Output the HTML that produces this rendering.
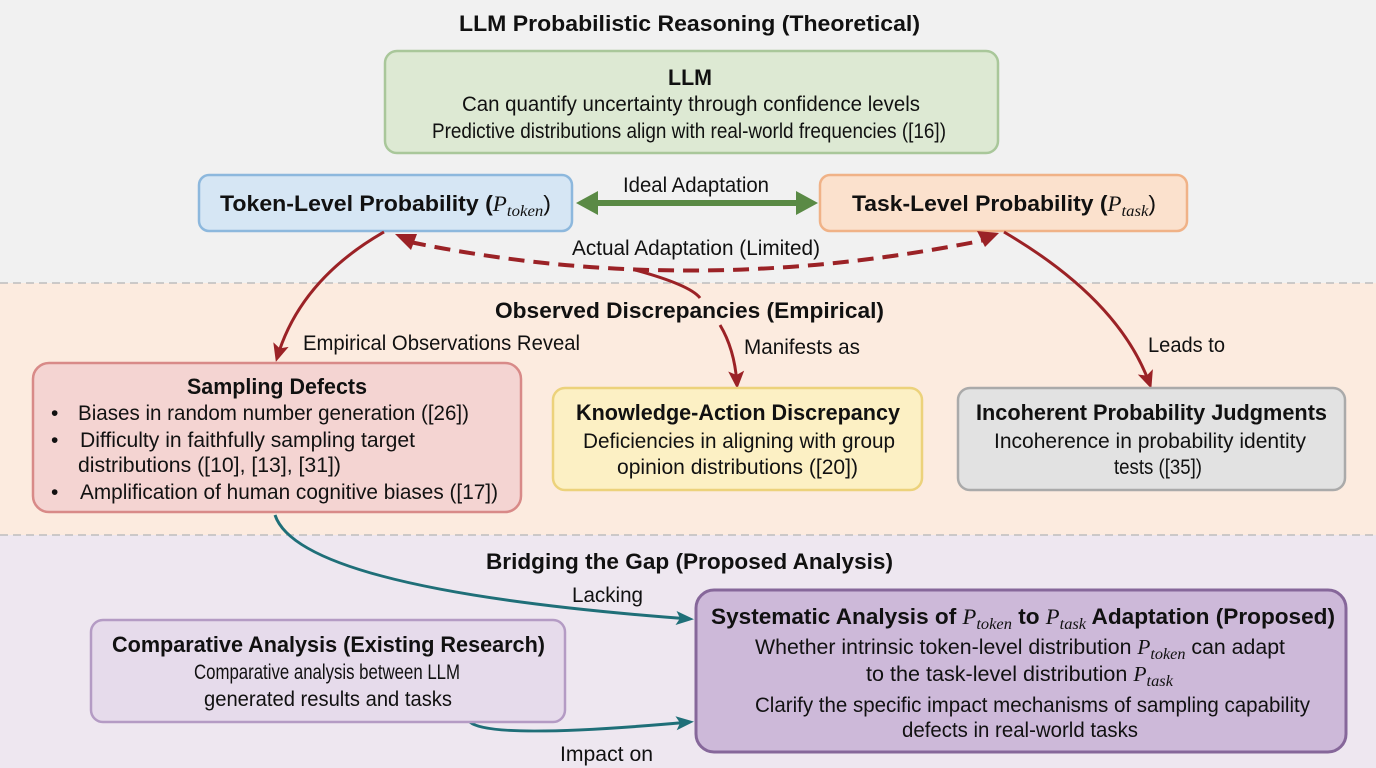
<!DOCTYPE html>
<html><head><meta charset="utf-8"><style>
html,body{margin:0;padding:0;background:#f1f1f1;}
svg{display:block;font-family:"Liberation Sans",sans-serif;}
.t{font-size:22px;font-weight:bold;fill:#111;}
.r{font-size:21px;fill:#111;}
.m{font-family:"Liberation Serif",serif;font-style:italic;font-weight:normal;}
</style></head><body>
<svg width="1376" height="768" viewBox="0 0 1376 768" xmlns="http://www.w3.org/2000/svg">
<defs>
<marker id="ar2" markerWidth="20" markerHeight="20" refX="14" refY="10" orient="auto" markerUnits="userSpaceOnUse" viewBox="0 0 20 20"><path d="M0,2 L18,10 L0,18 L4,10z" fill="#9b2226"/></marker>
<marker id="at" markerWidth="20" markerHeight="20" refX="14" refY="10" orient="auto" markerUnits="userSpaceOnUse" viewBox="0 0 20 20"><path d="M0,3 L18,10 L0,17 L4,10z" fill="#1f6f78"/></marker>
</defs>
<rect x="0" y="0" width="1376" height="283" fill="#f1f1f1"/>
<rect x="0" y="283" width="1376" height="252" fill="#fcebdf"/>
<rect x="0" y="535" width="1376" height="233" fill="#eee7f0"/>
<line x1="0" y1="283" x2="1376" y2="283" stroke="#bdbdbd" stroke-width="1.5" stroke-dasharray="8,5"/>
<line x1="0" y1="535" x2="1376" y2="535" stroke="#bdbdbd" stroke-width="1.5" stroke-dasharray="8,5"/>

<text class="t" x="459" y="31" textLength="461" lengthAdjust="spacingAndGlyphs">LLM Probabilistic Reasoning (Theoretical)</text>

<rect x="385" y="51" width="613" height="102" rx="12" fill="#dde9d3" stroke="#a9c79a" stroke-width="2.5"/>
<text class="t" x="668" y="85" textLength="44" lengthAdjust="spacingAndGlyphs">LLM</text>
<text class="r" x="462" y="111" textLength="458" lengthAdjust="spacingAndGlyphs">Can quantify uncertainty through confidence levels</text>
<text class="r" x="432" y="138" textLength="514" lengthAdjust="spacingAndGlyphs">Predictive distributions align with real-world frequencies ([16])</text>

<rect x="199" y="175" width="373" height="56" rx="10" fill="#d6e6f4" stroke="#8db8dd" stroke-width="2.5"/>
<text class="t" x="220" y="211" textLength="331" lengthAdjust="spacingAndGlyphs">Token-Level Probability (<tspan class="m">P</tspan><tspan class="m" font-size="16" dy="5">token</tspan><tspan dy="-5" font-weight="normal">)</tspan></text>
<rect x="820" y="175" width="367" height="56" rx="10" fill="#fbe1cd" stroke="#f0b287" stroke-width="2.5"/>
<text class="t" x="852" y="211" textLength="304" lengthAdjust="spacingAndGlyphs">Task-Level Probability (<tspan class="m">P</tspan><tspan class="m" font-size="16" dy="5">task</tspan><tspan dy="-5" font-weight="normal">)</tspan></text>

<line x1="596" y1="203" x2="798" y2="203" stroke="#5a8a45" stroke-width="6"/>
<path d="M576,203 l22,-12 v24z M818,203 l-22,-12 v24z" fill="#5a8a45"/>
<text class="r" x="623" y="192" textLength="146" lengthAdjust="spacingAndGlyphs">Ideal Adaptation</text>

<path d="M410,242 Q690,300 985,240" fill="none" stroke="#9b2226" stroke-width="4" stroke-dasharray="16,9"/>
<path d="M395,234 l22,0 l-6,16z M999,233 l-22,-2 l8,16z" fill="#9b2226"/>
<text class="r" x="572" y="255" textLength="248" lengthAdjust="spacingAndGlyphs">Actual Adaptation (Limited)</text>

<path d="M384,232 Q300,280 277,358" fill="none" stroke="#9b2226" stroke-width="3" marker-end="url(#ar2)"/>
<path d="M635,270 Q690,285 700,298" fill="none" stroke="#9b2226" stroke-width="3"/>
<path d="M720,325 Q735,350 737,385" fill="none" stroke="#9b2226" stroke-width="3" marker-end="url(#ar2)"/>
<path d="M1004,232 Q1120,300 1150,385" fill="none" stroke="#9b2226" stroke-width="3" marker-end="url(#ar2)"/>

<text class="t" x="495" y="318" textLength="389" lengthAdjust="spacingAndGlyphs">Observed Discrepancies (Empirical)</text>
<text class="r" x="303" y="350" textLength="277" lengthAdjust="spacingAndGlyphs">Empirical Observations Reveal</text>
<text class="r" x="744" y="354" textLength="116" lengthAdjust="spacingAndGlyphs">Manifests as</text>
<text class="r" x="1148" y="352" textLength="77" lengthAdjust="spacingAndGlyphs">Leads to</text>

<rect x="33" y="363" width="488" height="149" rx="16" fill="#f4d4d2" stroke="#d88a88" stroke-width="2.5"/>
<text class="t" x="187" y="394" textLength="180" lengthAdjust="spacingAndGlyphs">Sampling Defects</text>
<g class="r">
<text x="51" y="420">•</text><text x="78" y="420" textLength="391" lengthAdjust="spacingAndGlyphs">Biases in random number generation ([26])</text>
<text x="51" y="447">•</text><text x="80" y="447" textLength="335" lengthAdjust="spacingAndGlyphs">Difficulty in faithfully sampling target</text>
<text x="78" y="472" textLength="263" lengthAdjust="spacingAndGlyphs">distributions ([10], [13], [31])</text>
<text x="51" y="499">•</text><text x="80" y="499" textLength="418" lengthAdjust="spacingAndGlyphs">Amplification of human cognitive biases ([17])</text>
</g>

<rect x="553" y="388" width="369" height="102" rx="12" fill="#fcf0c4" stroke="#ecd27b" stroke-width="2.5"/>
<text class="t" x="576" y="420" textLength="324" lengthAdjust="spacingAndGlyphs">Knowledge-Action Discrepancy</text>
<text class="r" x="583" y="448" textLength="312" lengthAdjust="spacingAndGlyphs">Deficiencies in aligning with group</text>
<text class="r" x="617" y="474" textLength="241" lengthAdjust="spacingAndGlyphs">opinion distributions ([20])</text>

<rect x="958" y="388" width="387" height="102" rx="12" fill="#e2e2e2" stroke="#aaaaaa" stroke-width="2.5"/>
<text class="t" x="976" y="420" textLength="351" lengthAdjust="spacingAndGlyphs">Incoherent Probability Judgments</text>
<text class="r" x="994" y="448" textLength="312" lengthAdjust="spacingAndGlyphs">Incoherence in probability identity</text>
<text class="r" x="1114" y="474" textLength="88" lengthAdjust="spacingAndGlyphs">tests ([35])</text>

<text class="t" x="486" y="569" textLength="407" lengthAdjust="spacingAndGlyphs">Bridging the Gap (Proposed Analysis)</text>
<path d="M275,515 Q300,590 690,619" fill="none" stroke="#1f6f78" stroke-width="3" marker-end="url(#at)"/>
<text class="r" x="572" y="602" textLength="71" lengthAdjust="spacingAndGlyphs">Lacking</text>
<path d="M470,722 Q490,740 690,722" fill="none" stroke="#1f6f78" stroke-width="3" marker-end="url(#at)"/>
<text class="r" x="560" y="761" textLength="93" lengthAdjust="spacingAndGlyphs">Impact on</text>

<rect x="91" y="620" width="474" height="102" rx="12" fill="#e6dbeb" stroke="#b49bc4" stroke-width="2.5"/>
<text class="t" x="112" y="652" textLength="433" lengthAdjust="spacingAndGlyphs">Comparative Analysis (Existing Research)</text>
<text class="r" x="194" y="679" textLength="266" lengthAdjust="spacingAndGlyphs">Comparative analysis between LLM</text>
<text class="r" x="204" y="706" textLength="248" lengthAdjust="spacingAndGlyphs">generated results and tasks</text>

<rect x="696" y="590" width="650" height="162" rx="18" fill="#cdb9d9" stroke="#86679a" stroke-width="3"/>
<text class="t" x="711" y="624" textLength="624" lengthAdjust="spacingAndGlyphs">Systematic Analysis of <tspan class="m">P</tspan><tspan class="m" font-size="16" dy="5">token</tspan><tspan dy="-5"> to </tspan><tspan class="m">P</tspan><tspan class="m" font-size="16" dy="5">task</tspan><tspan dy="-5"> Adaptation (Proposed)</tspan></text>
<text class="r" x="755" y="654" textLength="530" lengthAdjust="spacingAndGlyphs">Whether intrinsic token-level distribution <tspan class="m">P</tspan><tspan class="m" font-size="16" dy="5">token</tspan><tspan dy="-5"> can adapt</tspan></text>
<text class="r" x="866" y="681" textLength="307" lengthAdjust="spacingAndGlyphs">to the task-level distribution <tspan class="m">P</tspan><tspan class="m" font-size="16" dy="5">task</tspan></text>
<text class="r" x="755" y="712" textLength="555" lengthAdjust="spacingAndGlyphs">Clarify the specific impact mechanisms of sampling capability</text>
<text class="r" x="902" y="737" textLength="236" lengthAdjust="spacingAndGlyphs">defects in real-world tasks</text>
</svg>
</body></html>
